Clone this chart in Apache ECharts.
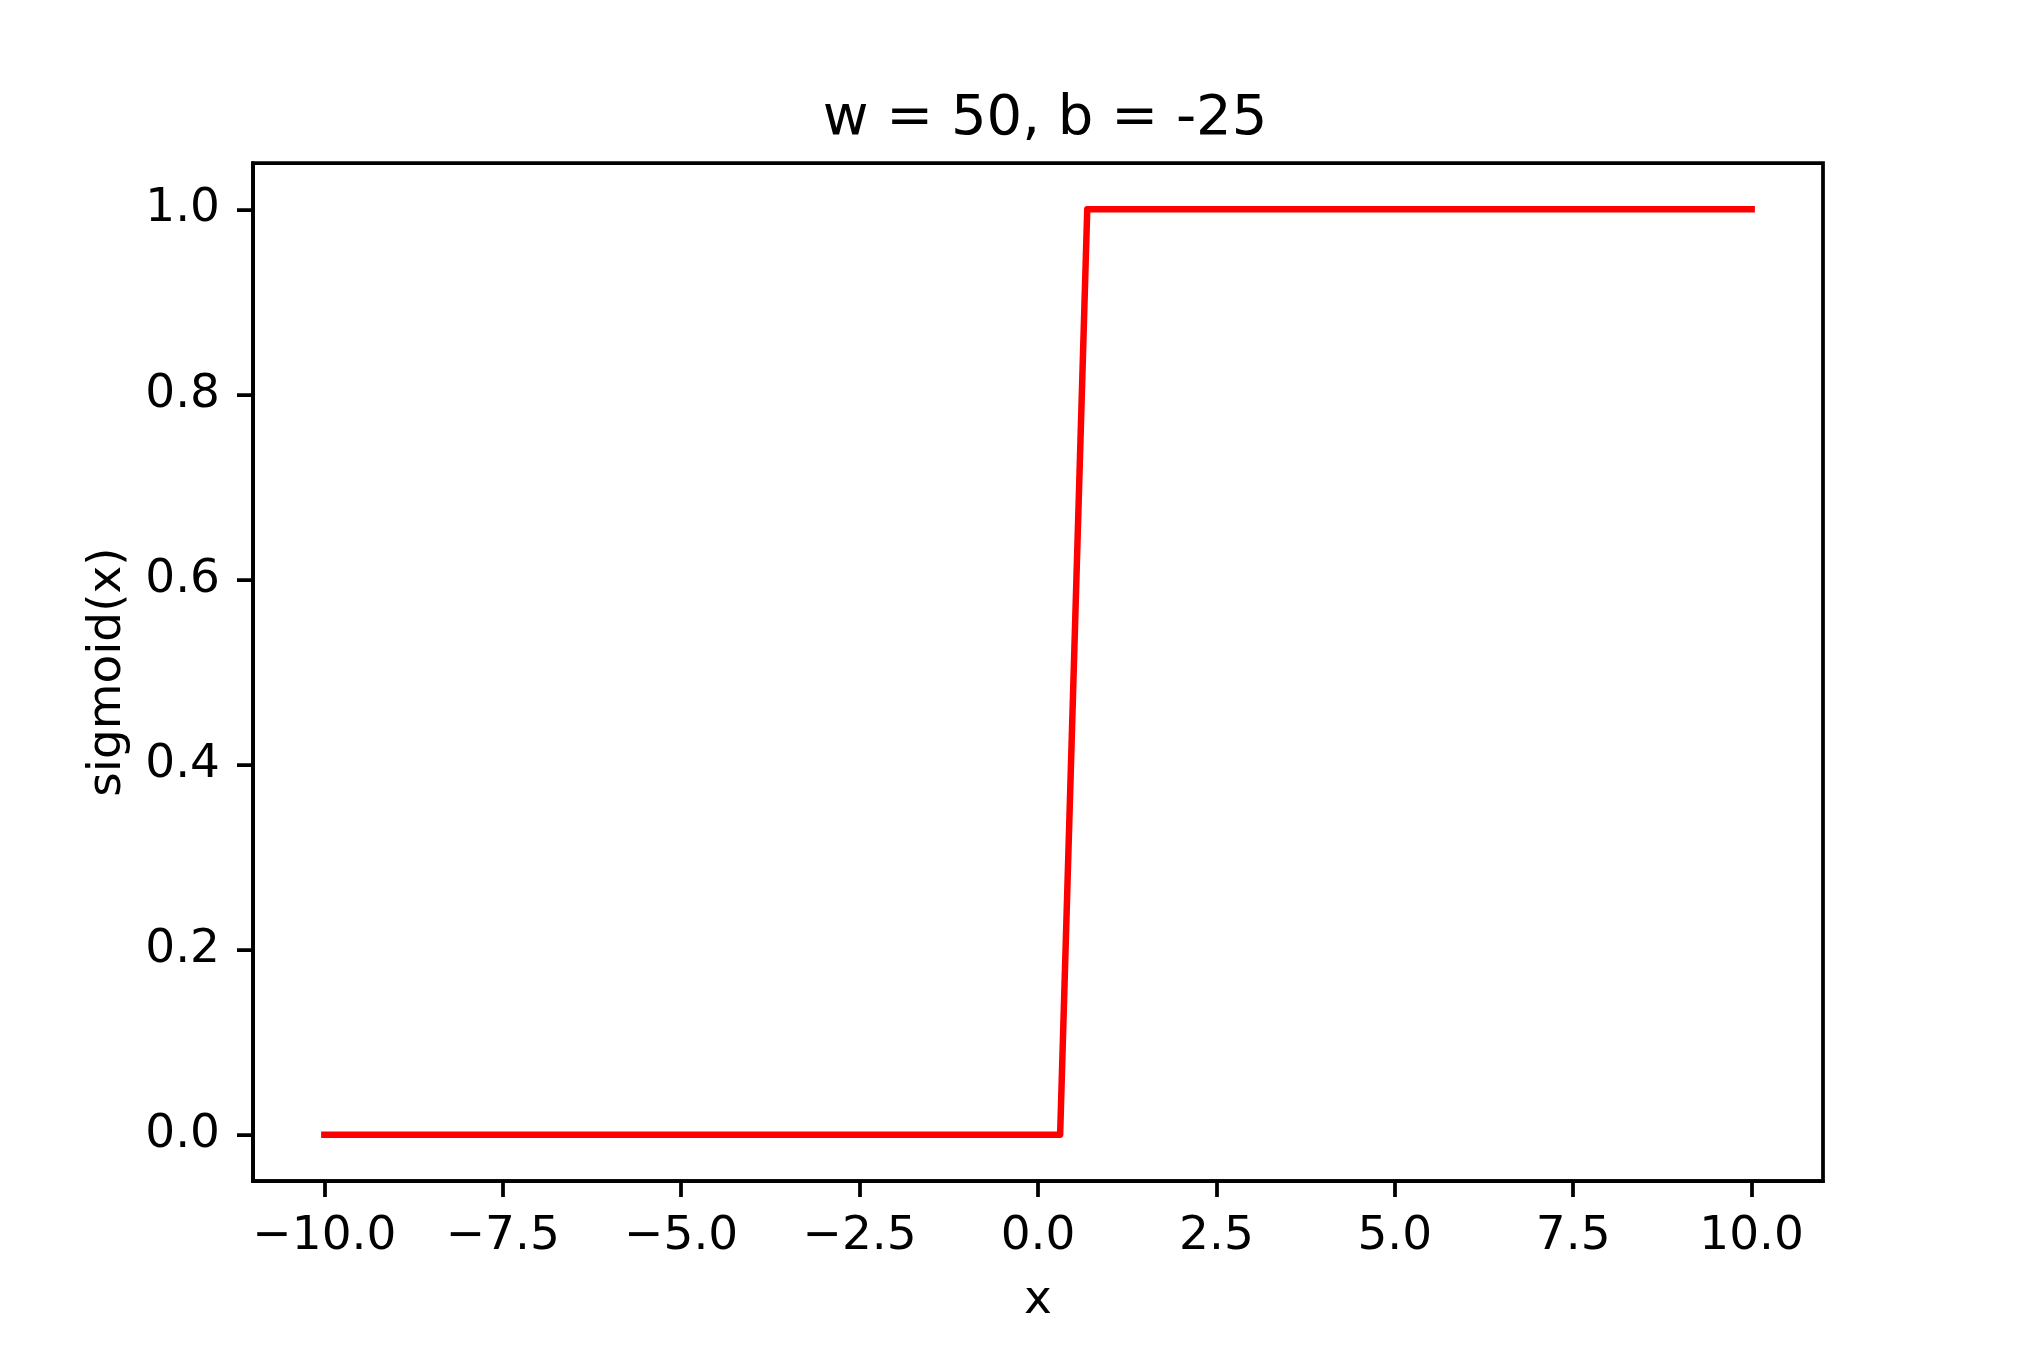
<!DOCTYPE html>
<html>
<head>
<meta charset="utf-8">
<script src="https://cdn.jsdelivr.net/npm/echarts@6/dist/echarts.min.js"></script>
<style>
html,body{margin:0;padding:0;background:#fff;}
#chart{width:2025px;height:1350px;}
</style>
</head>
<body>
<div id="chart"></div>
<script>
const titleText = 'w = 50, b = -25';
const xName = 'x';
const yName = 'sigmoid(x)';
const xTicks = [-10, -7.5, -5, -2.5, 0, 2.5, 5, 7.5, 10];
const yTicks = [0, 0.2, 0.4, 0.6, 0.8, 1.0];
const xValues = [-10, 0.31, 0.69, 10];
const yValues = [0, 0, 1, 1];

const FONT = 'DejaVu Sans';
const fmt = v => (v < 0 ? '\u2212' : '') + Math.abs(v).toFixed(1);

const chart = echarts.init(document.getElementById('chart'), null, {renderer: 'canvas'});
chart.setOption({
  backgroundColor: '#ffffff',
  animation: false,
  title: {
    text: titleText,
    left: 1040,
    textAlign: 'center',
    top: 86,
    textStyle: {fontFamily: FONT, fontSize: 56, fontWeight: 'normal', color: '#000'}
  },
  grid: {
    left: 253, top: 163, right: 202, bottom: 169,
    show: true, borderColor: '#000', borderWidth: 3.75, backgroundColor: 'transparent'
  },
  xAxis: {
    type: 'value', min: -11, max: 11,
    name: xName, nameLocation: 'middle', nameGap: 96,
    nameTextStyle: {fontFamily: FONT, fontSize: 47, color: '#000'},
    axisLine: {show: true, onZero: false, lineStyle: {color: '#000', width: 3.75}},
    splitLine: {show: false},
    axisTick: {show: true, inside: false, length: 16, customValues: xTicks, lineStyle: {color: '#000', width: 3.75}},
    axisLabel: {customValues: xTicks, margin: 32, formatter: fmt, fontFamily: FONT, fontSize: 47, color: '#000'}
  },
  yAxis: {
    type: 'value', min: -0.05, max: 1.05,
    name: yName, nameLocation: 'middle', nameGap: 122, nameRotate: 90,
    nameTextStyle: {fontFamily: FONT, fontSize: 47, color: '#000'},
    axisLine: {show: true, onZero: false, lineStyle: {color: '#000', width: 3.75}},
    splitLine: {show: false},
    axisTick: {show: true, inside: false, length: 16, customValues: yTicks, lineStyle: {color: '#000', width: 3.75}},
    axisLabel: {customValues: yTicks, margin: 33, padding: [8, 0, 0, 0], formatter: fmt, fontFamily: FONT, fontSize: 47, color: '#000'}
  },
  series: [{
    type: 'line',
    data: xValues.map((x, i) => [x, yValues[i]]),
    showSymbol: false,
    symbol: 'none',
    lineStyle: {color: '#ff0000', width: 6.5, cap: 'square', join: 'round'},
    z: 1
  }]
});
</script>
</body>
</html>
